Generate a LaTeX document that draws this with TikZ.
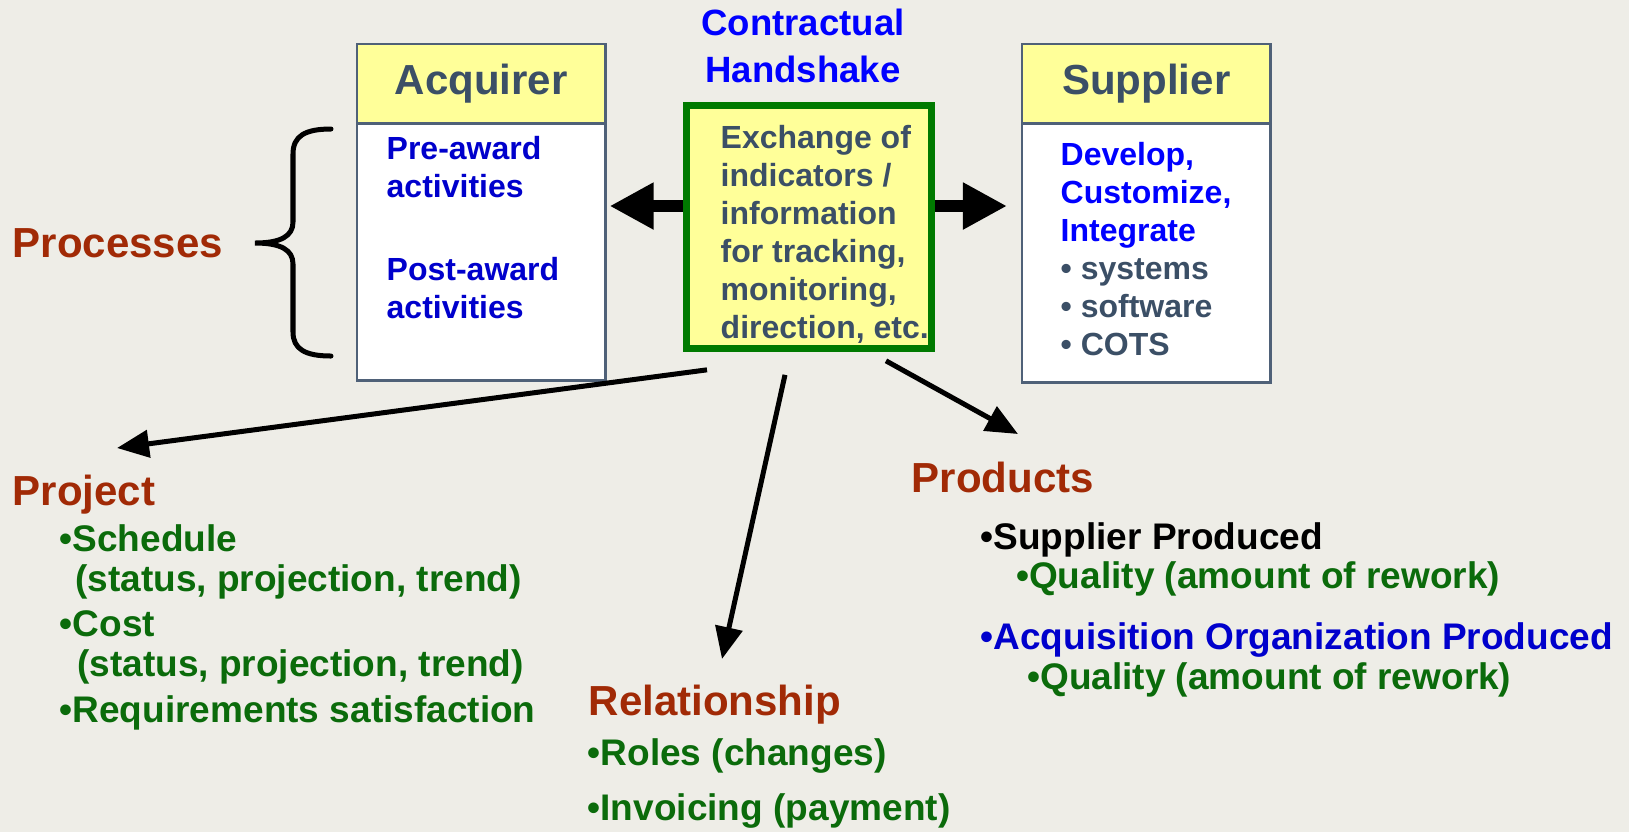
\documentclass[tikz,border=0pt]{standalone}
\usepackage{fontspec}
\setmainfont{Liberation Sans}
\usetikzlibrary{arrows.meta,calc}

\definecolor{paper}{HTML}{EEEDE7}
\definecolor{pale}{HTML}{FFFF99}
\definecolor{slate}{HTML}{3B4F66}
\definecolor{frame}{HTML}{4F6178}
\definecolor{navy}{HTML}{0000CC}
\definecolor{vivid}{HTML}{0000FF}
\definecolor{rust}{HTML}{A12A06}
\definecolor{leaf}{HTML}{0B6B0B}
\definecolor{edge}{HTML}{007A00}

\newcommand{\txtbig}{\fontsize{11.95pt}{14pt}\selectfont\bfseries}
\newcommand{\txthand}{\fontsize{10.4pt}{13.1pt}\selectfont\bfseries}
\newcommand{\txtbox}{\fontsize{9.1pt}{10.8pt}\selectfont\bfseries}
\newcommand{\txtlist}{\fontsize{10.53pt}{11.24pt}\selectfont\bfseries}

\begin{document}
\begin{tikzpicture}[x=0.01cm, y=-0.01cm,
  party/.style={draw=frame, fill=white, line width=0.7pt, inner sep=0pt, anchor=north west, minimum width=2.48cm, minimum height=3.36cm},
  hdr/.style={draw=frame, fill=pale, line width=0.7pt, inner sep=0pt, anchor=north west, minimum width=2.48cm, minimum height=0.79cm, font=\txtbig, text=slate},
  hand/.style={draw=edge, fill=pale, line width=0.065cm, inner sep=0pt, minimum width=2.45cm, minimum height=2.43cm},
  body/.style={anchor=base west, inner sep=0pt, align=left, font=\txtbox},
  heading/.style={anchor=base west, inner sep=0pt, font=\txtbig, text=rust},
  items/.style={anchor=base west, inner sep=0pt, align=left, font=\txtlist, text=leaf},
  bigarrow/.style={line width=0.115cm, -{Triangle[length=0.44cm 0 0, width=0.44cm 0 0]}},
  feedarrow/.style={line width=0.05cm, -{Triangle[length=0.32cm 0 0, width=0.27cm 0 0]}}
]
\fill[paper] (0,0) rectangle (1629,832);
\useasboundingbox (0,0) rectangle (1629,832);

% the two parties (multi-line texts sit on their last baseline)
\node[party] (acq) at (356,43) {};
\node[hdr] (acqhdr) at (356,43) {Acquirer};
\node[body, text=navy] (pre) at (386,197) {Pre-award\\activities};
\node[body, text=navy] (post) at (386,318) {Post-award\\activities};

\node[party, minimum height=3.38cm] (sup) at (1021,43) {};
\node[hdr] (suphdr) at (1021,43) {Supplier};
\node[body, text=slate] (supbody) at (1060,355) {\textcolor{vivid}{Develop,}\\\textcolor{vivid}{Customize,}\\\textcolor{vivid}{Integrate}\\• systems\\• software\\• COTS};

% handshake in the middle
\node[anchor=base, align=center, inner sep=0pt, font=\txthand, text=vivid] (ch) at (803,82) {Contractual\\Handshake};
\node[hand] (hs) at (809,227) {};
\node[body, text=slate] (hstext) at (720,338) {Exchange of\\indicators /\\information\\for tracking,\\monitoring,\\direction, etc.};

\coordinate (hsl) at ($(hs.west)+(0,-21)$);
\coordinate (hsr) at ($(hs.east)+(0,-21)$);
\draw[bigarrow] (hsl) -- ($(hsl -| acq.east)+(3,0)$);
\draw[bigarrow] (hsr) -- ($(hsr -| sup.west)+(-14,0)$);

% processes brace
\node[heading] (proc) at (12,257) {Processes};
\draw[line width=0.05cm, line cap=round] (331,129) .. controls (305,129) and (293,136) .. (293,154) -- (293,222)
  .. controls (293,236) and (281,243) .. (255,243) .. controls (281,243) and (293,250) .. (293,264)
  -- (293,332) .. controls (293,349) and (305,356) .. (331,356);

% the three areas
\node[heading] (proj) at (12,505) {Project};
\node[items] (projlist) at (59,722) {•Schedule\\\hspace*{0.155cm}(status, projection, trend)\\[1.7pt]•Cost\\\hspace*{0.175cm}(status, projection, trend)\\[1.7pt]•Requirements satisfaction};

\node[heading] (rel) at (588,715) {Relationship};
\node[items] (rellist) at (587,820) {•Roles (changes)\\[4.4pt]•Invoicing (payment)};

\node[heading] (prod) at (911,492) {Products};
\node[items] (prodlist) at (980,689) {\textcolor{black}{•Supplier Produced}\\\hspace*{0.355cm}•Quality (amount of rework)\\[6pt]\textcolor{navy}{•Acquisition Organization Produced}\\\hspace*{0.465cm}•Quality (amount of rework)};

\coordinate (pjtip) at (117,448);
\coordinate (rltip) at (722,659);
\coordinate (pdtip) at (1018,434);
\draw[feedarrow] ($(hs.south)+(-102,18)$) -- (pjtip);
\draw[feedarrow] ($(hs.south)+(-24,23)$) -- (rltip);
\draw[feedarrow] ($(hs.south)+(77,9)$) -- (pdtip);
\end{tikzpicture}
\end{document}
